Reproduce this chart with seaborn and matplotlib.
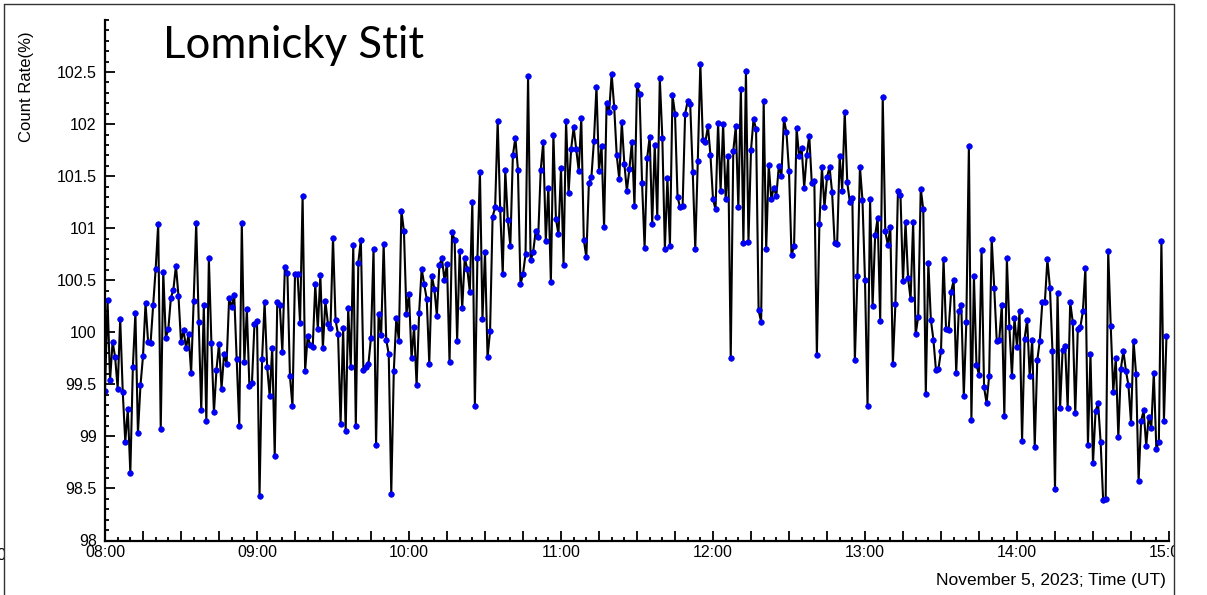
import pandas as pd
import matplotlib
matplotlib.use("Agg")
import matplotlib.pyplot as plt
import matplotlib.dates as mdates
from matplotlib.ticker import MultipleLocator, FixedLocator, FuncFormatter
from matplotlib.patches import Rectangle
from matplotlib.lines import Line2D
from matplotlib.transforms import Bbox, TransformedBbox
import seaborn as sns

# One-minute neutron monitor count rate (% of reference level), 08:00-15:00 UT
rate_08 = [99.44, 100.31, 99.54, 99.91, 99.76, 99.46, 100.13, 99.43, 98.95, 99.26,
           98.65, 99.67, 100.19, 99.03, 99.49, 99.77, 100.28, 99.91, 99.90, 100.26,
           100.61, 101.04, 99.07, 100.58, 99.95, 100.03, 100.33, 100.41, 100.64, 100.35,
           99.91, 100.02, 99.85, 99.98, 99.61, 100.30, 101.05, 100.10, 99.25, 100.26,
           99.15, 100.71, 99.90, 99.23, 99.64, 99.89, 99.46, 99.79, 99.70, 100.33,
           100.24, 100.36, 99.74, 99.10, 101.05, 99.71, 100.22, 99.48, 99.51, 100.08]
rate_09 = [100.11, 98.43, 99.74, 100.29, 99.67, 99.39, 99.85, 98.81, 100.29, 100.26,
           99.81, 100.63, 100.57, 99.58, 99.29, 100.56, 100.56, 100.09, 101.31, 99.63,
           99.96, 99.88, 99.86, 100.46, 100.03, 100.55, 99.85, 100.30, 100.08, 100.04,
           100.91, 100.12, 99.98, 99.12, 100.04, 99.05, 100.23, 99.67, 100.84, 99.10,
           100.67, 100.89, 99.64, 99.67, 99.70, 99.95, 100.80, 98.92, 100.18, 99.97,
           100.85, 99.93, 99.79, 98.45, 99.63, 100.14, 99.92, 101.17, 100.97, 100.18]
rate_10 = [100.37, 99.75, 100.05, 99.49, 100.19, 100.61, 100.46, 100.32, 99.70, 100.54,
           100.42, 100.16, 100.65, 100.71, 100.50, 100.66, 99.71, 100.96, 100.89, 99.92,
           100.78, 100.23, 100.71, 100.61, 100.39, 101.25, 99.29, 100.71, 101.54, 100.13,
           100.77, 99.76, 100.01, 101.11, 101.20, 102.03, 101.18, 100.56, 101.56, 101.08,
           100.83, 101.70, 101.87, 101.56, 100.46, 100.56, 100.75, 102.46, 100.69, 100.77,
           100.97, 100.92, 101.56, 101.83, 100.88, 101.39, 100.48, 101.90, 101.09, 100.94]
rate_11 = [101.58, 100.65, 102.03, 101.34, 101.76, 101.97, 101.76, 101.55, 102.06, 100.89,
           100.72, 101.43, 101.49, 101.84, 102.36, 101.55, 101.79, 101.01, 102.20, 102.12,
           102.48, 102.16, 101.70, 101.47, 102.02, 101.62, 101.36, 101.57, 101.83, 101.21,
           102.38, 102.29, 101.43, 100.81, 101.67, 101.88, 101.04, 101.80, 101.11, 102.44,
           101.87, 100.80, 101.48, 100.83, 102.28, 102.10, 101.30, 101.20, 101.21, 102.10,
           102.22, 102.19, 101.54, 100.80, 101.65, 102.58, 101.85, 101.83, 101.98, 101.70]
rate_12 = [101.28, 101.18, 102.01, 101.36, 102.00, 101.28, 101.69, 99.75, 101.74, 101.98,
           101.20, 102.34, 100.86, 102.51, 100.87, 101.75, 102.05, 101.95, 100.21, 100.10,
           102.22, 100.80, 101.61, 101.28, 101.39, 101.31, 101.60, 101.50, 102.05, 101.92,
           101.55, 100.74, 100.83, 101.96, 101.69, 101.77, 101.39, 101.70, 101.89, 101.43,
           101.45, 99.78, 101.04, 101.59, 101.20, 101.49, 101.59, 101.35, 100.86, 100.85,
           101.69, 101.36, 102.12, 101.44, 101.25, 101.29, 99.73, 100.54, 101.59, 101.27]
rate_13 = [100.50, 99.29, 101.28, 100.25, 100.93, 101.10, 100.11, 102.26, 100.97, 100.84,
           101.01, 99.70, 100.27, 101.36, 101.32, 100.49, 101.06, 100.52, 100.32, 101.06,
           99.98, 100.15, 101.38, 101.18, 99.41, 100.67, 100.12, 99.93, 99.64, 99.65,
           99.82, 100.70, 100.03, 100.02, 100.39, 100.50, 99.61, 100.20, 100.26, 99.39,
           100.10, 101.79, 99.16, 100.54, 99.69, 99.59, 100.79, 99.47, 99.32, 99.58,
           100.90, 100.43, 99.92, 99.93, 100.26, 99.20, 100.71, 100.05, 99.58, 100.14]
rate_14 = [99.86, 100.20, 98.96, 99.94, 100.12, 99.58, 99.93, 98.90, 99.73, 99.92,
           100.29, 100.29, 100.70, 100.43, 99.82, 98.49, 100.38, 99.27, 99.83, 99.87,
           99.27, 100.29, 100.10, 99.22, 100.03, 100.05, 100.20, 100.62, 98.92, 99.79,
           98.74, 99.24, 99.32, 98.95, 98.39, 98.40, 100.78, 100.06, 99.43, 99.75,
           98.99, 99.65, 99.82, 99.63, 99.49, 99.13, 99.92, 99.60, 98.57, 99.15,
           99.25, 98.91, 99.19, 99.08, 99.61, 98.88, 98.95, 100.88, 99.15, 99.96]

station = "Lomnicky Stit"
y_label = "Count Rate(%)"
x_label = "November 5, 2023; Time (UT)"
y_ticks = [98, 98.5, 99, 99.5, 100, 100.5, 101, 101.5, 102, 102.5]
y_tick_labels = ["98", "98.5", "99", "99.5", "100", "100.5", "101", "101.5", "102", "102.5"]

rate = rate_08 + rate_09 + rate_10 + rate_11 + rate_12 + rate_13 + rate_14
time = pd.date_range("2023-11-05 08:00", periods=len(rate), freq="min")
df = pd.DataFrame({"time": time, "rate": rate})

sns.set_theme(style="white")
plt.rcParams["font.family"] = ["Liberation Sans", "DejaVu Sans"]

W, H = 1207, 595
fig = plt.figure(figsize=(W / 100, H / 100), dpi=100)
fig.patch.set_facecolor("white")
ax = fig.add_axes([105 / W, (H - 540.5) / H, (1169 - 105) / W, (540.5 - 20) / H])

sns.lineplot(data=df, x="time", y="rate", ax=ax, color="black", linewidth=1.5,
             marker="o", markersize=4.0, markerfacecolor="#0000ff",
             markeredgecolor="#0000d0", markeredgewidth=0.5)

ax.set_xlim(pd.Timestamp("2023-11-05 08:00"), pd.Timestamp("2023-11-05 15:00"))
ax.set_ylim(98, 103)
ax.set_xlabel("")
ax.set_ylabel("")

for side in ("top", "right"):
    ax.spines[side].set_visible(False)
for side in ("left", "bottom"):
    ax.spines[side].set_color("black")
    ax.spines[side].set_linewidth(1.6)

# x axis: labels every hour, long ticks every 15 min, short ticks every 5 min
ax.xaxis.set_major_locator(mdates.MinuteLocator(byminute=[0, 15, 30, 45]))
ax.xaxis.set_minor_locator(mdates.MinuteLocator(byminute=range(0, 60, 5)))
ax.xaxis.set_major_formatter(
    FuncFormatter(lambda v, p: mdates.num2date(v).strftime("%H:%M")
                  if mdates.num2date(v).minute == 0 else ""))

ax.yaxis.set_major_locator(FixedLocator(y_ticks))
ax.set_yticklabels(y_tick_labels)
ax.yaxis.set_minor_locator(MultipleLocator(0.1))

ax.tick_params(axis="both", which="major", direction="in", length=7, width=1.3,
               colors="black", labelsize=11.5, labelcolor="black")
ax.tick_params(axis="both", which="minor", direction="in", length=3, width=1.3,
               colors="black")
ax.tick_params(axis="x", which="major", pad=3)
ax.tick_params(axis="y", which="major", pad=6)
ax.tick_params(left=True, bottom=True, which="both")

fig.text(163 / W, 1 - 45 / H, station, fontsize=31.5, family=["Lato", "DejaVu Sans"],
         ha="left", va="center", color="black")
fig.text(27 / W, 1 - 31 / H, y_label, rotation=90, ha="center", va="top",
         fontsize=12, color="black")
fig.text(1166 / W, 1 - 580 / H, x_label, ha="right", va="center",
         fontsize=12.5, color="black")

# page frame: content beyond the right edge is cut off
fig.patches.append(Rectangle((1174 / W, 0), 1 - 1174 / W, 1, transform=fig.transFigure,
                             facecolor="white", edgecolor="none", zorder=5))
frame_kw = dict(transform=fig.transFigure, color="#333333", linewidth=1.0, zorder=6)
fig.lines.append(Line2D([4 / W, 4 / W], [0, 1 - 4 / H], **frame_kw))
fig.lines.append(Line2D([1174 / W, 1174 / W], [0, 1 - 4 / H], **frame_kw))
fig.lines.append(Line2D([4 / W, 1174 / W], [1 - 4 / H, 1 - 4 / H], **frame_kw))
edge = fig.text(-4 / W, 1 - 556 / H, "0", fontsize=12, ha="left", va="center", color="black")
edge.set_clip_box(TransformedBbox(Bbox([[0, 0], [4 / W, 1]]), fig.transFigure))
edge.set_clip_on(True)

fig.savefig("out.png", dpi=100, facecolor="white")
